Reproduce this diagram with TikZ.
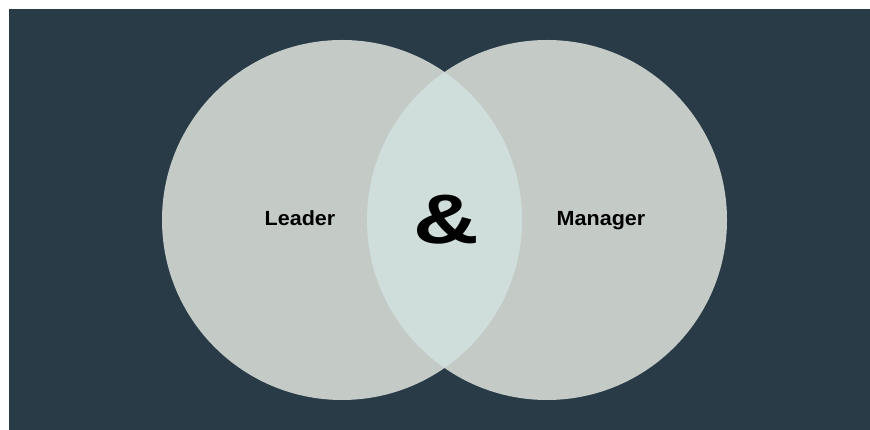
\documentclass[tikz,border=0pt]{standalone}
\usepackage{fontspec}
\setmainfont{Liberation Sans}
\usepackage{tikz}
\usetikzlibrary{positioning}
\definecolor{slate}{HTML}{283B47}
\definecolor{sage}{HTML}{C4CBC7}
\definecolor{mist}{HTML}{CFDEDB}
\tikzset{
    venn/.style={circle, fill=sage, draw=none, minimum size=360pt, inner sep=0pt},
    lbl/.style={font=\fontsize{20.5}{24}\selectfont\bfseries, text=black, xscale=1.05, anchor=base},
    amp/.style={font=\fontsize{70}{74}\selectfont\bfseries, text=black, xscale=1.3, anchor=base}
}
\begin{document}
\begin{tikzpicture}[x=1pt,y=1pt]
    \useasboundingbox (0,0) rectangle (870,430);
    \fill[white] (0,0) rectangle (870,430);
    \fill[slate] (9,0) rectangle (870,421);
    \node[venn] (lead) at (342,210) {};
    \node[venn] (mgr) at (547,210) {};
    \begin{scope}
        \clip (lead.center) circle (180);
        \fill[mist] (mgr.center) circle (180);
    \end{scope}
    \node[lbl] (leader) at (300,204) {Leader};
    \node[lbl] (manager) at (601,204) {Manager};
    \node[amp] (and) at (446,186) {\&};
\end{tikzpicture}
\end{document}
